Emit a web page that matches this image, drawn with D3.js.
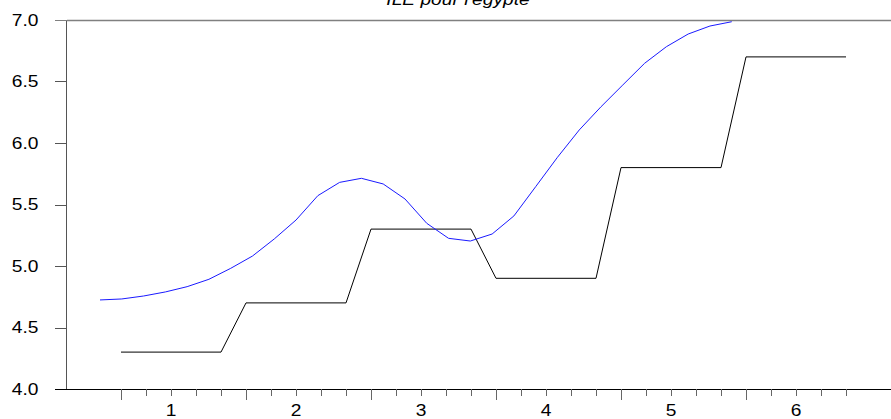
<!DOCTYPE html>
<html>
<head>
<meta charset="utf-8">
<script src="https://cdn.jsdelivr.net/npm/d3@7"></script>
<style>
  html, body { margin: 0; padding: 0; background: #fff; }
  svg { display: block; }
  text { font-family: "Liberation Sans", Arial, sans-serif; font-size: 16px; fill: #000; }
</style>
</head>
<body>
<svg id="chart" width="891" height="419"></svg>
<script>
// title + tick labels
const TITLE = "ILE pour l'egypte";
const Y_TICKS = [4.0, 4.5, 5.0, 5.5, 6.0, 6.5, 7.0];
const X_LABELS = ["1", "2", "3", "4", "5", "6"];

// black step series: 30 observations (5 per label group)
const stepSeries = [
  4.3, 4.3, 4.3, 4.3, 4.3,
  4.7, 4.7, 4.7, 4.7, 4.7,
  5.3, 5.3, 5.3, 5.3, 5.3,
  4.9, 4.9, 4.9, 4.9, 4.9,
  5.8, 5.8, 5.8, 5.8, 5.8,
  6.7, 6.7, 6.7, 6.7, 6.7
];

// blue smooth series: 30 points, spread over a shorter range of the axis
const smoothSeries = [
  4.724, 4.732, 4.756, 4.789, 4.832, 4.892, 4.981, 5.081, 5.220, 5.374,
  5.572, 5.680, 5.713, 5.667, 5.545, 5.347, 5.225, 5.203, 5.260, 5.407,
  5.645, 5.884, 6.106, 6.295, 6.472, 6.648, 6.783, 6.886, 6.951, 6.986
];
// where the smooth series starts / ends, in observation units
const smoothSpan = [-0.84, 24.43];

(function(){
  const svg = d3.select('#chart');
  const left = 67, right = 891, top = 20, bottom = 389;
  const SX = 1.2; // glyphs in the source are stretched horizontally

  const x = d3.scaleLinear().domain([-2.16, 30.8]).range([left, right]);
  const y = d3.scaleLinear().domain([4, 7]).range([bottom, top]);
  const xs = d3.scaleLinear().domain([0, smoothSeries.length - 1]).range(smoothSpan);

  // title (clipped by the top of the page)
  svg.append('text')
    .attr('transform', `translate(458,5) scale(${SX},1)`)
    .attr('text-anchor', 'middle')
    .style('font-style', 'italic')
    .text(TITLE);

  // frame: top border, left axis
  svg.append('line')
    .attr('x1', left).attr('x2', right)
    .attr('y1', top + 0.5).attr('y2', top + 0.5)
    .attr('stroke', '#808080').attr('stroke-width', 1.5);
  svg.append('line')
    .attr('x1', left - 0.5).attr('x2', left - 0.5)
    .attr('y1', top).attr('y2', bottom)
    .attr('stroke', '#555').attr('stroke-width', 1);

  // y ticks + labels
  const yg = svg.append('g');
  Y_TICKS.forEach(v => {
    const py = Math.round(y(v)) + 0.5;
    yg.append('line')
      .attr('x1', 55).attr('x2', left)
      .attr('y1', py).attr('y2', py)
      .attr('stroke', v === 7 ? '#808080' : '#555');
    yg.append('text')
      .attr('transform', `translate(38.5,${y(v) + 5.5}) scale(${SX},1)`)
      .attr('text-anchor', 'end')
      .text(v.toFixed(1));
  });

  // bottom axis line
  svg.append('line')
    .attr('x1', 55).attr('x2', right)
    .attr('y1', bottom + 0.5).attr('y2', bottom + 0.5)
    .attr('stroke', '#000');

  // x ticks: one per observation, long every 5
  const xg = svg.append('g');
  d3.range(stepSeries.length).forEach(i => {
    const px = Math.round(x(i)) + 0.5;
    xg.append('line')
      .attr('x1', px).attr('x2', px)
      .attr('y1', bottom).attr('y2', i % 5 === 0 ? bottom + 11 : bottom + 7)
      .attr('stroke', '#666');
  });
  X_LABELS.forEach((lab, j) => {
    xg.append('text')
      .attr('transform', `translate(${x(j * 5 + 2)},416) scale(${SX},1)`)
      .attr('text-anchor', 'middle')
      .text(lab);
  });

  // clip to plot area
  svg.append('clipPath').attr('id', 'plotclip')
    .append('rect').attr('x', left).attr('y', top).attr('width', right - left).attr('height', bottom - top);

  const plot = svg.append('g').attr('clip-path', 'url(#plotclip)');

  const stepLine = d3.line()
    .x((d, i) => x(i))
    .y(d => y(d));
  plot.append('path')
    .datum(stepSeries)
    .attr('d', stepLine)
    .attr('fill', 'none')
    .attr('stroke', '#000')
    .attr('stroke-width', 1);

  const smoothLine = d3.line()
    .x((d, i) => x(xs(i)))
    .y(d => y(d));
  plot.append('path')
    .datum(smoothSeries)
    .attr('d', smoothLine)
    .attr('fill', 'none')
    .attr('stroke', '#1a1aff')
    .attr('stroke-width', 1);
})();
</script>
</body>
</html>
